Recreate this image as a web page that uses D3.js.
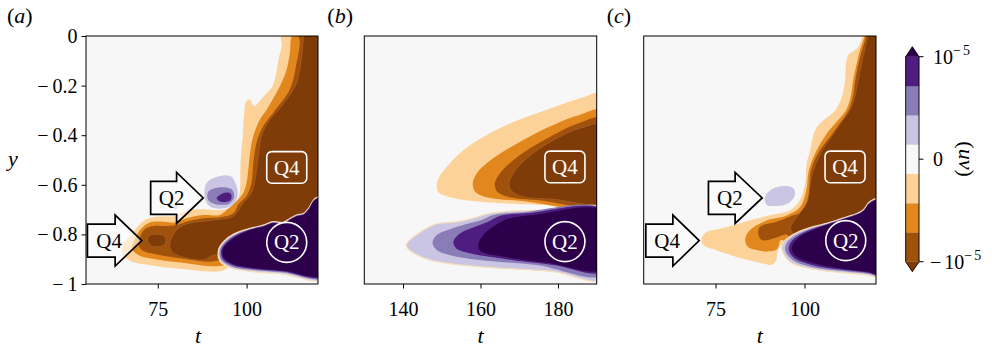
<!DOCTYPE html>
<html>
<head>
<meta charset="utf-8">
<script src="https://cdn.jsdelivr.net/npm/d3@7"></script>
<style>
  body { margin: 0; background: #fff; }
  svg { display: block; }
  text { font-family: "Liberation Serif", "Times New Roman", serif; }
</style>
</head>
<body>
<svg id="chart" width="992" height="348"></svg>
<script>
// ---- contour regions: [t, y] pairs ----
// panel (a)
const a_neg1 = [[109.9,0.01],[122,0.01],[122,-0.903],[96.3,-0.923],[93.3,-0.946],[90.6,-0.951],[86.0,-0.946],[80.3,-0.938],[72.8,-0.924],[67.2,-0.906],[64.9,-0.873],[65.5,-0.836],[67.4,-0.803],[69.5,-0.766],[71.9,-0.738],[75.6,-0.728],[79.9,-0.726],[83.1,-0.704],[87.8,-0.699],[92.5,-0.702],[96.3,-0.685],[97.8,-0.650],[98.2,-0.607],[98.3,-0.511],[98.9,-0.403],[99.4,-0.298],[99.8,-0.265],[100.8,-0.255],[102.1,-0.282],[104.7,-0.245],[107.3,-0.202],[108.5,-0.134],[109.2,-0.081],[109.9,-0.040]];
const a_neg2 = [[113.2,0.01],[122,0.01],[122,-0.903],[96.3,-0.916],[92.5,-0.927],[88.8,-0.927],[83.1,-0.916],[75.6,-0.903],[69.5,-0.883],[67.7,-0.856],[68.3,-0.829],[70.0,-0.782],[72.8,-0.752],[76.6,-0.749],[79.9,-0.752],[83.1,-0.735],[87.8,-0.722],[92.5,-0.722],[94.4,-0.702],[97.2,-0.665],[99.1,-0.632],[100.0,-0.591],[100.5,-0.538],[101.0,-0.470],[101.9,-0.403],[103.8,-0.336],[105.7,-0.296],[109.4,-0.202],[111.3,-0.134],[112.2,-0.067]];
const a_neg3 = [[114.8,0.01],[122,0.01],[122,-0.903],[96.3,-0.910],[91.6,-0.906],[89.7,-0.910],[83.1,-0.900],[75.6,-0.883],[70.5,-0.863],[69.5,-0.836],[70.0,-0.812],[71.1,-0.782],[73.8,-0.766],[77.5,-0.766],[80.3,-0.762],[83.1,-0.749],[87.8,-0.735],[92.5,-0.731],[96.3,-0.715],[97.7,-0.679],[100.0,-0.645],[101.4,-0.591],[101.9,-0.511],[102.8,-0.430],[104.7,-0.363],[107.5,-0.309],[112.2,-0.215],[114.1,-0.107],[115.0,-0.027]];
const a_neg4 = [[116.2,0.01],[122,0.01],[122,-0.903],[96.3,-0.903],[91.1,-0.883],[87.8,-0.903],[82.2,-0.892],[78.9,-0.869],[78.4,-0.836],[80.3,-0.782],[83.1,-0.758],[87.8,-0.747],[92.5,-0.739],[96.3,-0.726],[99.1,-0.672],[101.4,-0.632],[102.4,-0.578],[103.3,-0.484],[104.2,-0.403],[106.6,-0.336],[109.9,-0.282],[114.1,-0.188],[115.5,-0.081],[116.0,-0.013]];
const a_neg4b = [[72.1,-0.825],[72.6,-0.806],[74.2,-0.800],[76.4,-0.803],[77.3,-0.820],[76.9,-0.840],[75.4,-0.849],[73.3,-0.847]];
const a_pos1 = [[122,-0.649],[119.3,-0.655],[117.4,-0.696],[116.0,-0.716],[114.1,-0.722],[112.2,-0.736],[110.3,-0.752],[107.5,-0.749],[104.7,-0.763],[101.0,-0.776],[96.5,-0.798],[93.6,-0.828],[92.1,-0.863],[92.5,-0.908],[95.7,-0.935],[101.0,-0.949],[110.3,-0.960],[122,-0.978]];
const a_pos2 = [[122,-0.651],[119.3,-0.657],[117.4,-0.698],[116.0,-0.718],[114.1,-0.724],[112.2,-0.738],[110.3,-0.754],[107.5,-0.751],[104.7,-0.765],[101.0,-0.778],[96.8,-0.801],[94.0,-0.830],[92.5,-0.863],[92.9,-0.903],[95.9,-0.930],[101.0,-0.943],[110.3,-0.954],[122,-0.972]];
const a_pos3 = [[122,-0.653],[119.3,-0.659],[117.4,-0.700],[116.0,-0.720],[114.1,-0.726],[112.2,-0.740],[110.3,-0.756],[107.5,-0.753],[104.7,-0.767],[101.0,-0.780],[97.1,-0.803],[94.4,-0.832],[92.9,-0.863],[93.3,-0.899],[96.1,-0.924],[101.0,-0.938],[110.3,-0.950],[122,-0.967]];
const a_pos4 = [[122,-0.655],[119.3,-0.661],[117.4,-0.702],[116.0,-0.722],[114.1,-0.728],[112.2,-0.742],[110.3,-0.758],[107.5,-0.755],[104.7,-0.769],[101.0,-0.782],[97.4,-0.806],[94.8,-0.833],[93.3,-0.863],[93.6,-0.895],[96.3,-0.919],[101.0,-0.933],[110.3,-0.946],[122,-0.962]];
const a_blob1 = [[88.6,-0.597],[90.6,-0.574],[95.3,-0.564],[96.9,-0.594],[97.5,-0.645],[96.2,-0.678],[93.5,-0.695],[89.7,-0.688],[88.3,-0.654]];
const a_blob2 = [[89.2,-0.628],[92.5,-0.610],[95.8,-0.618],[96.5,-0.650],[94.9,-0.677],[91.1,-0.677],[89.2,-0.661]];
const a_blob3 = [[91.6,-0.654],[93.9,-0.632],[95.6,-0.637],[95.5,-0.661],[93.0,-0.669]];
const a_dot = [[79.2,-0.688],[79.9,-0.677],[80.7,-0.688],[79.9,-0.702]];

// panel (b)
const b_neg1 = [[192,-0.231],[185.7,-0.251],[178.8,-0.288],[170.2,-0.336],[161.6,-0.399],[155.6,-0.460],[151.7,-0.520],[149.4,-0.567],[148.7,-0.600],[149.2,-0.631],[151.7,-0.648],[157.3,-0.664],[165.9,-0.674],[177.1,-0.681],[192,-0.685]];
const b_neg2 = [[192,-0.298],[185.7,-0.318],[178.8,-0.359],[171.9,-0.412],[165.9,-0.466],[161.6,-0.513],[159.0,-0.554],[158.0,-0.594],[158.6,-0.628],[161.6,-0.650],[170.2,-0.664],[192,-0.674]];
const b_neg3 = [[192,-0.332],[184.8,-0.355],[178.8,-0.399],[172.8,-0.453],[168.0,-0.507],[165.0,-0.554],[163.7,-0.594],[164.3,-0.628],[167.6,-0.650],[174.5,-0.661],[192,-0.669]];
const b_neg4 = [[192,-0.359],[185.7,-0.372],[180.5,-0.406],[175.4,-0.453],[171.0,-0.507],[168.5,-0.554],[167.4,-0.594],[168.0,-0.624],[171.0,-0.648],[178.8,-0.658],[192,-0.665]];
const b_pos1 = [[192,-0.699],[178.8,-0.702],[166.7,-0.708],[161.6,-0.718],[159.0,-0.731],[155.6,-0.744],[153.0,-0.751],[148.7,-0.758],[144.4,-0.792],[140.8,-0.843],[142.2,-0.869],[147.0,-0.903],[154.7,-0.923],[165.9,-0.937],[178.8,-0.950],[192,-0.980]];
const b_pos2 = [[192,-0.702],[170.2,-0.712],[163.3,-0.722],[160.3,-0.742],[156.4,-0.758],[152.1,-0.779],[148.7,-0.802],[147.6,-0.833],[148.7,-0.863],[153.0,-0.887],[161.6,-0.906],[174.5,-0.923],[192,-0.962]];
const b_pos3 = [[192,-0.704],[171.9,-0.715],[165.0,-0.726],[162.0,-0.749],[158.6,-0.769],[154.7,-0.796],[153.0,-0.829],[153.7,-0.856],[157.3,-0.876],[166.7,-0.900],[178.8,-0.923],[192,-0.948]];
const b_pos4 = [[192,-0.708],[173.6,-0.722],[166.7,-0.739],[163.3,-0.769],[160.7,-0.802],[159.4,-0.843],[159.9,-0.866],[165.9,-0.890],[177.1,-0.914],[192,-0.938]];

// panel (c)
const c_neg1 = [[116.4,0.01],[122,0.01],[122,-0.916],[104.4,-0.890],[97.8,-0.860],[95.0,-0.833],[93.2,-0.847],[92.4,-0.873],[92.0,-0.905],[90.8,-0.922],[86.6,-0.911],[80.9,-0.891],[75.3,-0.864],[71.6,-0.844],[71.1,-0.816],[72.5,-0.790],[76.3,-0.777],[80.0,-0.763],[84.7,-0.743],[90.3,-0.723],[95.9,-0.703],[98.7,-0.662],[100.2,-0.595],[100.6,-0.515],[101.6,-0.461],[103.0,-0.380],[105.3,-0.340],[108.6,-0.300],[110.5,-0.246],[111.4,-0.178],[111.7,-0.111],[112.3,-0.078],[115.1,-0.044],[116.1,-0.009]];
const c_neg2 = [[117.1,0.01],[122,0.01],[122,-0.916],[104.4,-0.883],[98.7,-0.856],[95.9,-0.836],[93.4,-0.823],[92.3,-0.860],[89.4,-0.869],[86.5,-0.863],[84.2,-0.852],[83.3,-0.825],[84.5,-0.785],[89.4,-0.744],[95.0,-0.724],[98.7,-0.691],[100.5,-0.623],[101.2,-0.543],[103.4,-0.462],[106.2,-0.395],[109.1,-0.345],[111.7,-0.298],[113.0,-0.245],[113.7,-0.177],[114.7,-0.110],[115.6,-0.056],[116.7,-0.009]];
const c_neg3 = [[117.5,0.01],[122,0.01],[122,-0.916],[104.4,-0.876],[98.7,-0.849],[96.4,-0.829],[95.0,-0.800],[92.2,-0.812],[88.0,-0.823],[87.0,-0.796],[87.5,-0.769],[92.2,-0.749],[95.9,-0.728],[99.5,-0.706],[101.2,-0.637],[101.8,-0.543],[104.1,-0.466],[107.2,-0.406],[109.8,-0.355],[112.3,-0.301],[113.6,-0.247],[114.3,-0.177],[115.2,-0.110],[116.2,-0.056],[117.2,-0.009]];
const c_neg4 = [[118.1,0.01],[122,0.01],[122,-0.916],[104.4,-0.863],[98.7,-0.816],[96.4,-0.789],[96.1,-0.769],[97.8,-0.731],[100.8,-0.668],[102.0,-0.567],[104.8,-0.466],[107.6,-0.406],[110.2,-0.352],[112.8,-0.298],[114.2,-0.245],[115.1,-0.177],[116.5,-0.083],[117.7,-0.009]];
const c_pos1 = [[122,-0.655],[118.4,-0.668],[116.5,-0.702],[114.7,-0.716],[111.9,-0.729],[109.1,-0.743],[106.2,-0.756],[102.5,-0.769],[98.0,-0.792],[94.5,-0.825],[93.6,-0.856],[95.9,-0.910],[101.4,-0.937],[110.0,-0.953],[117.5,-0.963],[122,-0.971]];
const c_pos2 = [[122,-0.657],[118.4,-0.670],[116.5,-0.704],[114.7,-0.718],[111.9,-0.731],[109.1,-0.745],[106.2,-0.758],[102.5,-0.773],[98.3,-0.797],[95.3,-0.829],[94.6,-0.865],[96.7,-0.903],[101.7,-0.930],[110.0,-0.947],[117.5,-0.958],[122,-0.966]];
const c_pos3 = [[122,-0.659],[118.4,-0.672],[116.5,-0.706],[114.7,-0.720],[111.9,-0.733],[109.1,-0.747],[106.2,-0.760],[102.5,-0.777],[98.6,-0.802],[96.1,-0.833],[95.6,-0.865],[97.2,-0.896],[102.1,-0.923],[110.0,-0.942],[117.5,-0.954],[122,-0.962]];
const c_pos4 = [[122,-0.661],[118.4,-0.674],[116.5,-0.708],[114.7,-0.722],[111.9,-0.735],[109.1,-0.749],[106.2,-0.762],[102.5,-0.782],[98.7,-0.809],[96.9,-0.836],[96.4,-0.863],[97.8,-0.890],[102.5,-0.916],[110.0,-0.937],[117.5,-0.950],[122,-0.958]];
const c_blob1 = [[88.9,-0.648],[90.8,-0.618],[94.1,-0.605],[96.9,-0.614],[97.3,-0.641],[95.5,-0.674],[92.2,-0.685],[89.4,-0.681]];

// annotations: [label, t tail, t neck, t tip, y]
const a_arrows = [["Q4", 55.2, 63.0, 70.5, -0.825], ["Q2", 73.0, 80.3, 87.8, -0.653]];
const c_arrows = [["Q4", 55.4, 63.0, 70.4, -0.825], ["Q2", 73.0, 80.5, 88.1, -0.653]];
const a_q4 = [111.3, -0.530], a_q2 = [111.3, -0.832];
const b_q4 = [181.8, -0.528], b_q2 = [181.8, -0.829];
const c_q4 = [111.4, -0.528], c_q2 = [111.6, -0.825];

// ticks
const yTicks = [0, -0.2, -0.4, -0.6, -0.8, -1];
const a_xTicks = [75, 100];
const b_xTicks = [140, 160, 180];
const c_xTicks = [75, 100];

// colour levels (x 1e-5)
const cbarBounds = [-1, -0.714, -0.429, -0.143, 0.143, 0.429, 0.714, 1];
const cbarColors = ["#a0520c", "#e2861e", "#fdd298", "#f7f7f7", "#c9c5e3", "#8a7db7", "#4e1d7f"];
const underColor = "#7f3b08", overColor = "#2d004b";
const cbarTicks = [-1, 0, 1];

const fills = {
  u: underColor, n3: cbarColors[0], n2: cbarColors[1], n1: cbarColors[2],
  p1: cbarColors[4], p2: cbarColors[5], p3: cbarColors[6], o: overColor
};

const svg = d3.select("#chart");
const TOP = 36, BOTTOM = 284;
const FONT = 20;

const panels = [
  { id: "a", left: 86, right: 318, xDomain: [54.8, 120.1], xTicks: a_xTicks, yAxis: true,
    layers: [[a_neg1, "n1"], [a_neg2, "n2"], [a_neg3, "n3"], [a_neg4, "u"], [a_neg4b, "u"],
             [a_pos1, "p1"], [a_pos2, "p2"], [a_pos3, "p3"], [a_pos4, "o"],
             [a_blob1, "p1"], [a_blob2, "p2"], [a_blob3, "p3"]],
    arrows: a_arrows, q4: a_q4, q2: a_q2, extra: [[a_dot, "p1"]] },
  { id: "b", left: 364.3, right: 596.7, xDomain: [130, 190], xTicks: b_xTicks, yAxis: false,
    layers: [[b_neg1, "n1"], [b_neg2, "n2"], [b_neg3, "n3"], [b_neg4, "u"],
             [b_pos1, "p1"], [b_pos2, "p2"], [b_pos3, "p3"], [b_pos4, "o"]],
    arrows: [], q4: b_q4, q2: b_q2, extra: [] },
  { id: "c", left: 643.7, right: 876, xDomain: [54.8, 120.1], xTicks: c_xTicks, yAxis: false,
    layers: [[c_neg1, "n1"], [c_neg2, "n2"], [c_neg3, "n3"], [c_neg4, "u"],
             [c_pos1, "p1"], [c_pos2, "p2"], [c_pos3, "p3"], [c_pos4, "o"], [c_blob1, "p1"]],
    arrows: c_arrows, q4: c_q4, q2: c_q2, extra: [] }
];

function minusLabel(sel, v, fmt, gap) {
  sel.text(null);
  if (v < 0) {
    sel.append("tspan").text("\u2212");
    sel.append("tspan").attr("dx", gap).text(fmt(-v));
  } else {
    sel.append("tspan").text(fmt(v));
  }
}

function drawPanel(p) {
  const x = d3.scaleLinear().domain(p.xDomain).range([p.left, p.right]);
  const y = d3.scaleLinear().domain([-1, 0]).range([BOTTOM, TOP]);
  const g = svg.append("g");

  const clipId = "clip-" + p.id;
  g.append("clipPath").attr("id", clipId).append("rect")
    .attr("x", p.left).attr("y", TOP)
    .attr("width", p.right - p.left).attr("height", BOTTOM - TOP);

  const plot = g.append("g").attr("clip-path", `url(#${clipId})`);
  plot.append("rect")
    .attr("x", p.left).attr("y", TOP)
    .attr("width", p.right - p.left).attr("height", BOTTOM - TOP)
    .attr("fill", cbarColors[3]);

  const line = d3.line()
    .x((d) => x(d[0]))
    .y((d) => y(d[1]))
    .curve(d3.curveCatmullRomClosed.alpha(0.5));

  p.layers.concat(p.extra).forEach(([pts, key]) => {
    const path = plot.append("path").attr("d", line(pts)).attr("fill", fills[key]);
    // thin light seams like the contourf edges
    if (key === "u") path.attr("stroke", "#a9612a").attr("stroke-width", 0.7);
    if (key === "p1" && pts.length > 12) path.attr("stroke", "#f5dcbc").attr("stroke-width", 1.3);
  });

  // Q4 box and Q2 circle
  const q4x = x(p.q4[0]), q4y = y(p.q4[1]);
  g.append("rect")
    .attr("x", q4x - 20).attr("y", q4y - 15.8)
    .attr("width", 40).attr("height", 31.6).attr("rx", 5)
    .attr("fill", "none").attr("stroke", "#fff").attr("stroke-width", 1.6);
  g.append("text").attr("x", q4x).attr("y", q4y).attr("dy", "0.34em")
    .attr("text-anchor", "middle").attr("fill", "#fff").attr("font-size", 21).text("Q4");

  const q2x = x(p.q2[0]), q2y = y(p.q2[1]);
  g.append("circle").attr("cx", q2x).attr("cy", q2y).attr("r", 20)
    .attr("fill", "none").attr("stroke", "#fff").attr("stroke-width", 1.6);
  g.append("text").attr("x", q2x).attr("y", q2y).attr("dy", "0.34em")
    .attr("text-anchor", "middle").attr("fill", "#fff").attr("font-size", 21).text("Q2");

  // arrows
  const bh = 16.5, hh = 25.5;
  p.arrows.forEach(([label, tTail, tNeck, tTip, yv]) => {
    const x0 = x(tTail), x1 = x(tNeck), x2 = x(tTip), yc = y(yv);
    const pts = [[x0, yc - bh], [x1, yc - bh], [x1, yc - hh], [x2, yc],
                 [x1, yc + hh], [x1, yc + bh], [x0, yc + bh]];
    g.append("path")
      .attr("d", "M" + pts.map((q) => q.join(",")).join("L") + "Z")
      .attr("fill", "#fff").attr("fill-opacity", 0.55)
      .attr("stroke", "#000").attr("stroke-width", 1.7)
      .attr("stroke-linejoin", "miter");
    g.append("text")
      .attr("x", x0 + 0.4 * (x2 - x0)).attr("y", yc).attr("dy", "0.34em")
      .attr("text-anchor", "middle").attr("font-size", 21).text(label);
  });

  // frame
  g.append("rect")
    .attr("x", p.left).attr("y", TOP)
    .attr("width", p.right - p.left).attr("height", BOTTOM - TOP)
    .attr("fill", "none").attr("stroke", "#000").attr("stroke-width", 1);

  // x axis
  const xa = g.append("g")
    .attr("transform", `translate(0,${BOTTOM})`)
    .call(d3.axisBottom(x).tickValues(p.xTicks).tickSize(4.5).tickPadding(13).tickSizeOuter(0));
  xa.select(".domain").remove();
  xa.selectAll(".tick line").attr("stroke", "#000");
  xa.selectAll("text").attr("font-size", FONT)
    .attr("font-family", '"Liberation Serif", serif').attr("fill", "#000");

  g.append("text")
    .attr("x", (p.left + p.right) / 2 - (p.id === "a" ? 4 : 0)).attr("y", 343)
    .attr("text-anchor", "middle").attr("font-size", 22)
    .attr("font-style", "italic").text("t");

  if (p.yAxis) {
    const ya = g.append("g")
      .attr("transform", `translate(${p.left},0)`)
      .call(d3.axisLeft(y).tickValues(yTicks).tickSize(4.5).tickPadding(4).tickSizeOuter(0));
    ya.select(".domain").remove();
    ya.selectAll(".tick line").attr("stroke", "#000");
    ya.selectAll("text")
      .attr("font-size", FONT).attr("font-family", '"Liberation Serif", serif').attr("fill", "#000")
      .each(function (d) { minusLabel(d3.select(this), d, d3.format("~g"), 4); });

    g.append("text")
      .attr("x", 13).attr("y", 166)
      .attr("text-anchor", "middle").attr("font-size", 22)
      .attr("font-style", "italic").text("y");
  }

  // panel letter
  const lab = g.append("text")
    .attr("x", p.left - 79 + (p.id === "a" ? 0 : 42)).attr("y", 23).attr("font-size", 22);
  lab.append("tspan").text("(");
  lab.append("tspan").attr("font-style", "italic").text(p.id);
  lab.append("tspan").text(")");
}

panels.forEach(drawPanel);

// ---- colorbar ----
const cbX0 = 905.7, cbX1 = 919;
const cbY = d3.scaleLinear().domain([-1, 1]).range([261.7, 56.7]);
const cb = svg.append("g");
cbarColors.forEach((c, i) => {
  cb.append("rect")
    .attr("x", cbX0).attr("width", cbX1 - cbX0)
    .attr("y", cbY(cbarBounds[i + 1]))
    .attr("height", cbY(cbarBounds[i]) - cbY(cbarBounds[i + 1]))
    .attr("fill", c).attr("stroke", c).attr("stroke-width", 0.3);
});
const cbMid = (cbX0 + cbX1) / 2;
cb.append("path")
  .attr("d", `M${cbX0},${cbY(1)}L${cbMid},${cbY(1) - 10}L${cbX1},${cbY(1)}Z`)
  .attr("fill", overColor);
cb.append("path")
  .attr("d", `M${cbX0},${cbY(-1)}L${cbMid},${cbY(-1) + 10}L${cbX1},${cbY(-1)}Z`)
  .attr("fill", underColor);
cb.append("path")
  .attr("d", `M${cbX0},${cbY(-1)}L${cbX0},${cbY(1)}L${cbMid},${cbY(1) - 10}L${cbX1},${cbY(1)}` +
             `L${cbX1},${cbY(-1)}L${cbMid},${cbY(-1) + 10}Z`)
  .attr("fill", "none").attr("stroke", "#000").attr("stroke-width", 0.9);

cbarTicks.forEach((v) => {
  const yy = cbY(v);
  cb.append("line").attr("x1", cbX1).attr("x2", cbX1 + 4.5)
    .attr("y1", yy).attr("y2", yy).attr("stroke", "#000");
  const t = cb.append("text").attr("x", cbX1 + 11).attr("y", yy).attr("dy", "0.34em")
    .attr("font-size", FONT);
  if (v === 0) {
    t.append("tspan").attr("dx", 3).text("0");
  } else {
    if (v < 0) t.append("tspan").text("\u2212");
    t.append("tspan").attr("dx", 3).text("10");
    t.append("tspan").attr("dy", -9).attr("font-size", 14).text("\u2212");
    t.append("tspan").attr("dx", 2).attr("font-size", 14).text("5");
  }
});

const cl = svg.append("text")
  .attr("transform", "translate(959,159) rotate(90)")
  .attr("text-anchor", "middle").attr("font-size", 22);
cl.append("tspan").text("(");
cl.append("tspan").attr("font-style", "italic").text("uv");
cl.append("tspan").text(")");
</script>
</body>
</html>
